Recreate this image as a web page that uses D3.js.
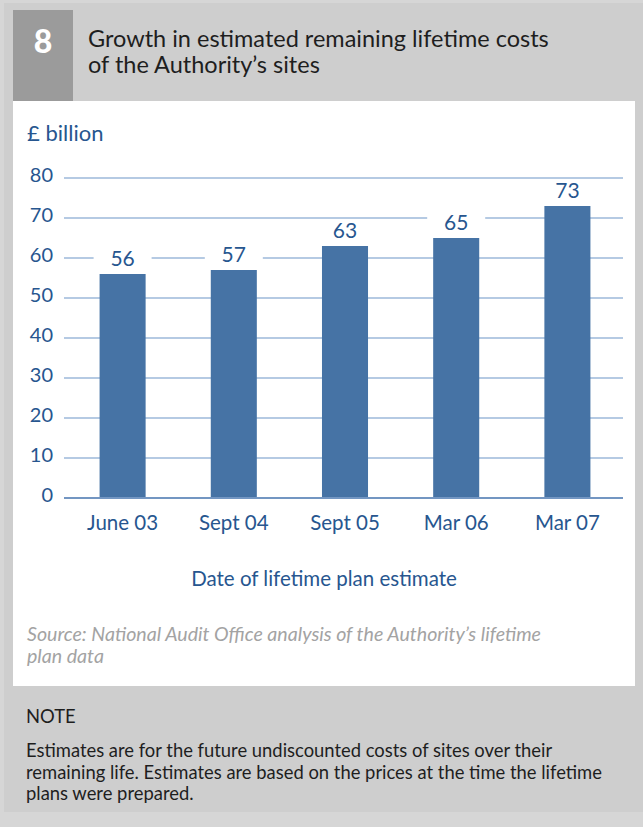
<!DOCTYPE html>
<html>
<head>
<meta charset="utf-8">
<script src="https://cdn.jsdelivr.net/npm/d3@7"></script>
<style>
  body { margin: 0; background: #d6d6d6; }
  svg { display: block; }
  text { font-family: Lato, "Noto Sans", sans-serif; }
</style>
</head>
<body>
<svg id="chart" width="643" height="827"></svg>
<script>
// Estimated remaining lifetime costs (£ billion) by lifetime plan date
const categories = ["June 03", "Sept 04", "Sept 05", "Mar 06", "Mar 07"];
const values = [56, 57, 63, 65, 73];
const yTicks = [0, 10, 20, 30, 40, 50, 60, 70, 80];

const titleLines = ["Growth in estimated remaining lifetime costs", "of the Authority\u2019s sites"];
const sourceLines = ["Source: National Audit Office analysis of the Authority\u2019s lifetime", "plan data"];
const noteLines = [
  "Estimates are for the future undiscounted costs of sites over their",
  "remaining life. Estimates are based on the prices at the time the lifetime",
  "plans were prepared."
];

const blue = "#27568f";
const barColor = "#4673a5";
const gridColor = "#9db8da";

const svg = d3.select("#chart");

// page frame
svg.append("rect").attr("x", 4).attr("y", 3).attr("width", 639).attr("height", 809).attr("fill", "#cecece");
svg.append("rect").attr("x", 13).attr("y", 10).attr("width", 60).attr("height", 91).attr("fill", "#9b9b9b");
svg.append("text").attr("x", 43).attr("y", 52.5).attr("text-anchor", "middle")
  .attr("font-size", 32).attr("font-weight", 900).attr("fill", "#fff").text("8");

svg.append("g").selectAll("text").data(titleLines).join("text")
  .attr("x", 88).attr("y", (d, i) => 46.5 + i * 26)
  .attr("font-size", 23.5).attr("fill", "#1e1e1e").text(d => d);

// white chart panel
svg.append("rect").attr("x", 13).attr("y", 101).attr("width", 622).attr("height", 585).attr("fill", "#fff");

const x = d3.scaleBand().domain(categories).range([67, 623]).paddingInner(0.586).paddingOuter(0.293);
const y = d3.scaleLinear().domain([0, 80]).range([498, 178]);

svg.append("text").attr("x", 27).attr("y", 140.5).attr("font-size", 22).attr("fill", blue).text("\u00a3 billion");

// gridlines (0 drawn separately as the axis line)
svg.append("g").selectAll("line").data(yTicks.filter(d => d > 0)).join("line")
  .attr("x1", 64).attr("x2", 623).attr("y1", d => y(d)).attr("y2", d => y(d))
  .attr("stroke", gridColor).attr("stroke-width", 1.3);

// y axis labels
const yAxis = d3.axisLeft(y).tickValues(yTicks).tickSize(0).tickPadding(0);
const gy = svg.append("g").attr("transform", "translate(53,-3)").call(yAxis);
gy.select(".domain").remove();
gy.selectAll("text").attr("font-size", 20).attr("fill", blue).attr("font-family", "Lato, 'Noto Sans', sans-serif");

// bars
svg.append("g").selectAll("rect").data(values).join("rect")
  .attr("x", (d, i) => x(categories[i])).attr("width", x.bandwidth())
  .attr("y", d => y(d)).attr("height", d => y(0) - y(d))
  .attr("fill", barColor);

// baseline
svg.append("line").attr("x1", 64).attr("x2", 623).attr("y1", y(0)).attr("y2", y(0))
  .attr("stroke", "#7396c2").attr("stroke-width", 2);

// value labels on white backing so gridlines break around them
const lbl = svg.append("g").selectAll("g").data(values).join("g")
  .attr("transform", (d, i) => `translate(${x(categories[i]) + x.bandwidth() / 2},${y(d) - 8})`);
lbl.append("rect").attr("x", -29).attr("width", 58).attr("y", -16.5).attr("height", 19).attr("fill", "#fff");
lbl.append("text").attr("text-anchor", "middle").attr("font-size", 21).attr("fill", blue).text(d => d);

// x axis labels
const xAxis = d3.axisBottom(x).tickSize(0).tickPadding(0);
const gx = svg.append("g").attr("transform", "translate(0,515)").call(xAxis);
gx.select(".domain").remove();
gx.selectAll("text").attr("font-size", 20.5).attr("fill", blue)
  .attr("font-family", "Lato, 'Noto Sans', sans-serif").attr("dy", "0.75em");

svg.append("text").attr("x", 324).attr("y", 585.5).attr("text-anchor", "middle")
  .attr("font-size", 20.5).attr("fill", blue).text("Date of lifetime plan estimate");

svg.append("g").selectAll("text").data(sourceLines).join("text")
  .attr("x", 27).attr("y", (d, i) => 641 + i * 22)
  .attr("font-size", 19.6).attr("font-style", "italic").attr("fill", "#a3a3a3").text(d => d);

svg.append("text").attr("x", 26).attr("y", 723).attr("font-size", 18.4).attr("fill", "#1e1e1e").text("NOTE");

svg.append("g").selectAll("text").data(noteLines).join("text")
  .attr("x", 26).attr("y", (d, i) => 757 + i * 21.5)
  .attr("font-size", 18.4).attr("fill", "#1e1e1e").text(d => d);
</script>
</body>
</html>
